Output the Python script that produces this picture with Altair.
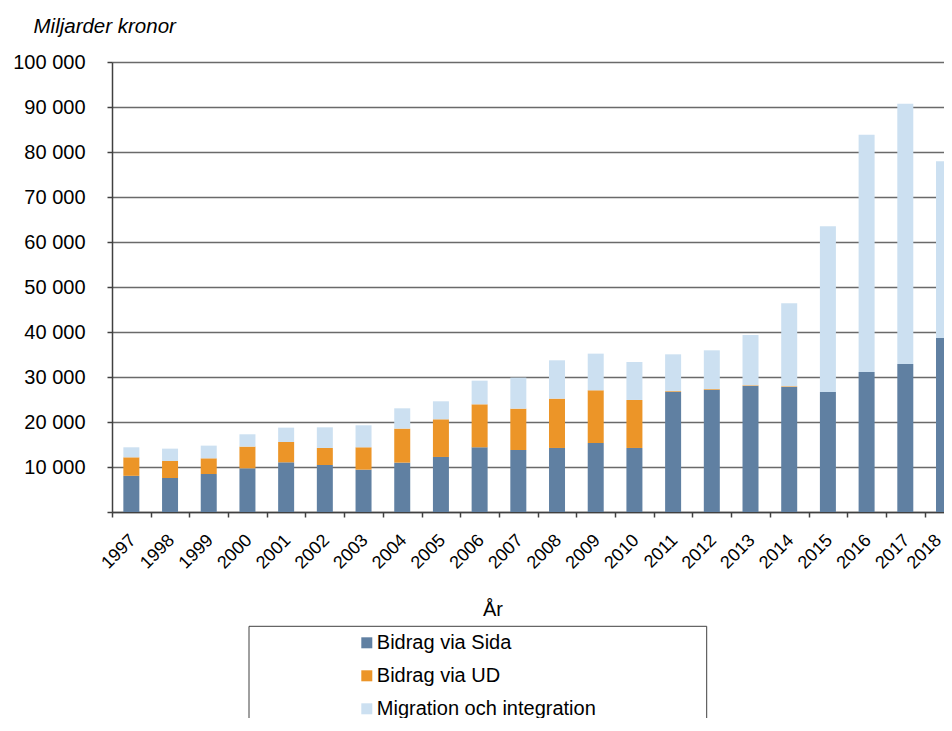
import altair as alt
import pandas as pd

years = list(range(1997, 2019))
sida = [8040, 7560, 8440, 9710, 11040, 10450, 9410, 10970, 12230, 14380, 13780,
        14230, 15340, 14230, 26750, 27190, 28000, 27780, 26670, 31110, 32890, 38670]
ud_top = [12150, 11330, 11930, 14530, 15560, 14230, 14380, 18530, 20600, 23930, 22970,
          25190, 27040, 24900, 26900, 27340, 28150, 27930, 26670, 31110, 32890, 38670]
total = [14380, 14080, 14750, 17270, 18750, 18820, 19270, 23040, 24600, 29190, 29860,
         33710, 35190, 33340, 35040, 35930, 39330, 46380, 63490, 83850, 90740, 77930]

series = ["Bidrag via Sida", "Bidrag via UD", "Migration och integration"]
colors = ["#6080A2", "#EC9528", "#CCE0F1"]

rows = []
for i, y in enumerate(years):
    ud = ud_top[i] - sida[i]
    mig = total[i] - ud_top[i]
    rows.append({"year": y, "serie": series[0], "value": sida[i], "ord": 0})
    rows.append({"year": y, "serie": series[1], "value": ud, "ord": 1})
    rows.append({"year": y, "serie": series[2], "value": mig, "ord": 2})
df = pd.DataFrame(rows)

FONT = "Liberation Sans"
plot_w = 832
plot_h = 450
x_min, x_max = 1996.5, 2018.0
step = plot_w / (x_max - x_min)
last_year = years[-1]

bars = alt.Chart(df).mark_bar(size=16, clip=True).encode(
    x=alt.X("year:Q",
            scale=alt.Scale(domain=[x_min, x_max], nice=False, zero=False, padding=0),
            axis=alt.Axis(values=years, format="d", labelAngle=315,
                          labelAlign="right", labelBaseline="top",
                          tickOffset=-step / 2,
                          labelOffset={"condition": {"test": f"datum.value == {last_year}",
                                                     "value": step / 2 - 12},
                                       "value": step / 2 - 5},
                          tickSize=5, tickColor="#404040", tickWidth=1.5,
                          domainColor="#404040", domainWidth=1.5,
                          labelPadding=14, labelOverlap=False, labelFlush=False,
                          labelBound=False, labelFontSize=18, labelColor="#000000",
                          labelFont=FONT, grid=False,
                          title="År", titleX=380.5, titleY=103,
                          titleAlign="center", titleBaseline="alphabetic",
                          titleFontWeight="normal", titleFontSize=20,
                          titleFont=FONT, titleColor="#000000")),
    y=alt.Y("value:Q", stack="zero",
            scale=alt.Scale(domain=[0, 100000], nice=False, padding=0),
            axis=alt.Axis(values=list(range(0, 100001, 10000)),
                          labelExpr="datum.value == 0 ? '' : format(datum.value/1000, 'd') + ' 000'",
                          grid=True, gridColor="#6a6a6a", gridWidth=1.4,
                          tickSize=5, tickColor="#404040", tickWidth=1.5,
                          domainColor="#404040", domainWidth=1.5,
                          labelPadding=22, labelFontSize=20, labelFont=FONT,
                          labelColor="#000000", labelBaseline="middle",
                          title="Miljarder kronor", titleAngle=0, titleX=-79,
                          titleY=-36, titleAlign="left", titleBaseline="middle",
                          titleFontStyle="italic", titleFontWeight="normal",
                          titleFontSize=20.5, titleFont=FONT, titleColor="#000000")),
    color=alt.Color("serie:N",
                    scale=alt.Scale(domain=series, range=colors),
                    legend=alt.Legend(orient="none", legendX=244.8, legendY=570.8,
                                      title=None, symbolType="square",
                                      symbolSize=121, symbolStrokeWidth=0,
                                      rowPadding=13, labelOffset=0, padding=0,
                                      labelFontSize=20, labelFont=FONT,
                                      labelColor="#000000", labelLimit=400)),
    order=alt.Order("ord:Q"),
)

frame = alt.Chart(pd.DataFrame({"k": [0]})).mark_rect(
    fill=None, stroke="#404040", strokeWidth=1
).encode(
    x=alt.value(137), x2=alt.value(594.7),
    y=alt.value(564.3), y2=alt.value(800),
)

chart = alt.layer(bars, frame).properties(
    width=plot_w, height=plot_h,
    autosize=alt.AutoSizeParams(type="none"),
    padding={"left": 104, "top": 54, "right": 0, "bottom": 206},
).configure_view(stroke=None).configure(font=FONT)

chart.save("out.html", embed_options={"renderer": "svg", "actions": False})
